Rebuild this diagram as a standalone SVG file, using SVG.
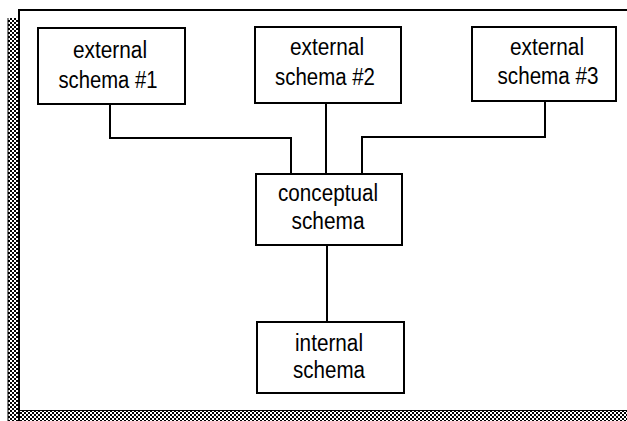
<svg xmlns="http://www.w3.org/2000/svg" width="627" height="421" viewBox="0 0 627 421">
<defs>
<pattern id="dither" width="4" height="4" patternUnits="userSpaceOnUse">
<rect width="4" height="4" fill="#fff"/>
<rect x="0" y="0" width="2" height="2" fill="#000"/>
<rect x="2" y="2" width="2" height="2" fill="#000"/>
</pattern>
</defs>
<style>
.box{fill:#fff;stroke:#000;stroke-width:2}
.lbl{font-family:"Liberation Sans",Arial,sans-serif;font-size:23px;fill:#000;text-anchor:middle}
.conn{fill:none;stroke:#000;stroke-width:2}
</style>
<rect width="627" height="421" fill="#fff"/>
<g id="frame">
<rect x="8" y="18" width="12" height="403" fill="url(#dither)"/>
<rect x="8" y="410" width="619" height="11" fill="url(#dither)"/>
<line x1="8" y1="18" x2="8" y2="421" stroke="#000" stroke-width="1"/>
<line x1="20" y1="410.5" x2="627" y2="410.5" stroke="#000" stroke-width="1"/>
<path d="M19,421 V10 H627" fill="none" stroke="#000" stroke-width="2"/>
</g>
<g id="connectors">
<path class="conn" d="M110,104 V138 H291 V174"/>
<path class="conn" d="M326,103 V174"/>
<path class="conn" d="M545,101 V137 H362 V174"/>
<path class="conn" d="M327,245 V322"/>
</g>
<g id="ext1">
<rect class="box" x="38" y="28" width="147" height="76"/>
<text class="lbl" x="110" y="58" textLength="74" lengthAdjust="spacingAndGlyphs">external</text>
<text class="lbl" x="108" y="88" textLength="99" lengthAdjust="spacingAndGlyphs">schema #1</text>
</g>
<g id="ext2">
<rect class="box" x="255" y="27" width="146" height="76"/>
<text class="lbl" x="327" y="55" textLength="74" lengthAdjust="spacingAndGlyphs">external</text>
<text class="lbl" x="325" y="85" textLength="100" lengthAdjust="spacingAndGlyphs">schema #2</text>
</g>
<g id="ext3">
<rect class="box" x="472" y="27" width="144" height="74"/>
<text class="lbl" x="547" y="55" textLength="74" lengthAdjust="spacingAndGlyphs">external</text>
<text class="lbl" x="548" y="84" textLength="101" lengthAdjust="spacingAndGlyphs">schema #3</text>
</g>
<g id="conceptual">
<rect class="box" x="256" y="174" width="146" height="71"/>
<text class="lbl" x="328" y="201" textLength="100" lengthAdjust="spacingAndGlyphs">conceptual</text>
<text class="lbl" x="328" y="229" textLength="73" lengthAdjust="spacingAndGlyphs">schema</text>
</g>
<g id="internal">
<rect class="box" x="257" y="322" width="147" height="71"/>
<text class="lbl" x="329" y="351" textLength="68" lengthAdjust="spacingAndGlyphs">internal</text>
<text class="lbl" x="329" y="378" textLength="72" lengthAdjust="spacingAndGlyphs">schema</text>
</g>
</svg>
